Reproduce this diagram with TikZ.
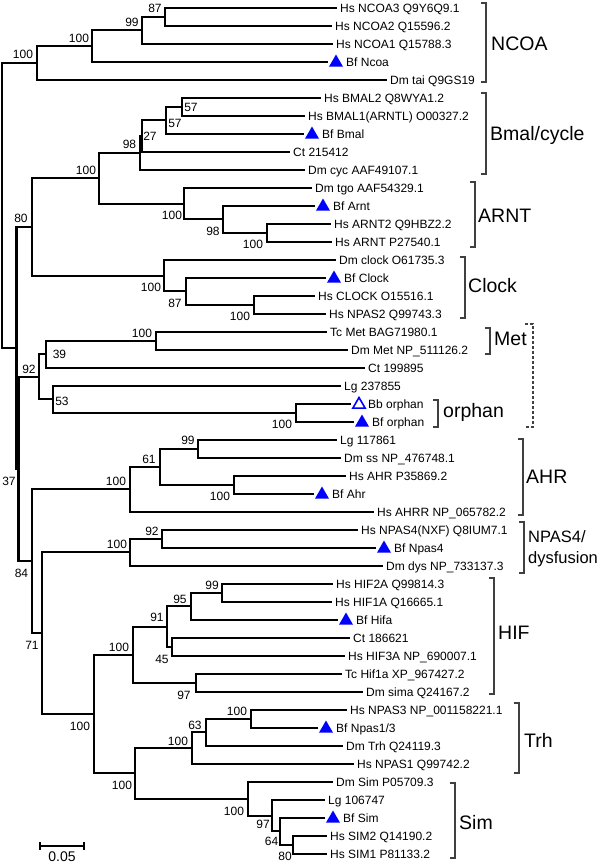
\documentclass[tikz,border=0pt]{standalone}
\usepackage{fontspec}
\setmainfont{Liberation Sans}
\usetikzlibrary{shapes.geometric,calc}
\newcommand\lf[4]{%
  \coordinate (#1) at (#3,{7.8+18*(#2-1)});
  \node[leaf] (#1t) at ($(#1)+(3,4.3)$) {#4};}
\newcommand\lt[4]{%
  \coordinate (#1) at (#3,{7.8+18*(#2-1)});
  \node[tri] (#1m) at ($(#1)+(8,0.8)$) {};
  \node[leaf] (#1t) at ($(#1)+(18,4.3)$) {#4};}
\newcommand\lo[4]{%
  \coordinate (#1) at (#3,{7.8+18*(#2-1)});
  \node[otri] (#1m) at ($(#1)+(8,0.8)$) {};
  \node[leaf] (#1t) at ($(#1)+(17,4.3)$) {#4};}
\newcommand\kids[3]{\draw[brn] (#1) |- (#2); \draw[brn] (#1) |- (#3);}
\begin{document}
\begin{tikzpicture}[x=1pt,y=-1pt,
  brn/.style={line width=2.1pt},
  leaf/.style={font=\fontsize{12}{14}\selectfont, anchor=base west, inner sep=0pt},
  bs/.style={font=\fontsize{12}{14}\selectfont, inner sep=0pt},
  tri/.style={regular polygon, regular polygon sides=3, fill=blue, inner sep=0pt, minimum size=16.2pt},
  otri/.style={regular polygon, regular polygon sides=3, draw=blue, fill=white, line width=1.6pt, inner sep=0pt, minimum size=14.2pt},
  brk/.style={line width=1.3pt, draw=black!75},
  clade/.style={font=\fontsize{19.5}{22}\selectfont, anchor=base west, inner sep=0pt},
  cladesm/.style={font=\fontsize{16.5}{20.6}\selectfont, anchor=base west, inner sep=0pt, align=left},
  scl/.style={font=\fontsize{14}{16}\selectfont, inner sep=0pt}]
\useasboundingbox (0,0) rectangle (600,863);
% leaves
\lf{L1}{1}{337}{Hs NCOA3 Q9Y6Q9.1}
\lf{L2}{2}{332}{Hs NCOA2 Q15596.2}
\lf{L3}{3}{333}{Hs NCOA1 Q15788.3}
\lt{L4}{4}{328}{Bf Ncoa}
\lf{L5}{5}{387}{Dm tai Q9GS19}
\lf{L6}{6}{321}{Hs BMAL2 Q8WYA1.2}
\lf{L7}{7}{305}{Hs BMAL1(ARNTL) O00327.2}
\lt{L8}{8}{304}{Bf Bmal}
\lf{L9}{9}{290}{Ct 215412}
\lf{L10}{10}{305}{Dm cyc AAF49107.1}
\lf{L11}{11}{312}{Dm tgo AAF54329.1}
\lt{L12}{12}{315}{Bf Arnt}
\lf{L13}{13}{331}{Hs ARNT2 Q9HBZ2.2}
\lf{L14}{14}{332}{Hs ARNT P27540.1}
\lf{L15}{15}{336}{Dm clock O61735.3}
\lt{L16}{16}{326}{Bf Clock}
\lf{L17}{17}{315}{Hs CLOCK O15516.1}
\lf{L18}{18}{326}{Hs NPAS2 Q99743.3}
\lf{L19}{19}{327}{Tc Met BAG71980.1}
\lf{L20}{20}{348}{Dm Met NP\_511126.2}
\lf{L21}{21}{365}{Ct 199895}
\lf{L22}{22}{341}{Lg 237855}
\lo{L23}{23}{351}{Bb orphan}
\lt{L24}{24}{354}{Bf orphan}
\lf{L25}{25}{337}{Lg 117861}
\lf{L26}{26}{341}{Dm ss NP\_476748.1}
\lf{L27}{27}{346}{Hs AHR P35869.2}
\lt{L28}{28}{314}{Bf Ahr}
\lf{L29}{29}{374}{Hs AHRR NP\_065782.2}
\lf{L30}{30}{358}{Hs NPAS4(NXF) Q8IUM7.1}
\lt{L31}{31}{376}{Bf Npas4}
\lf{L32}{32}{383}{Dm dys NP\_733137.3}
\lf{L33}{33}{333}{Hs HIF2A Q99814.3}
\lf{L34}{34}{332}{Hs HIF1A Q16665.1}
\lt{L35}{35}{338}{Bf Hifa}
\lf{L36}{36}{350}{Ct 186621}
\lf{L37}{37}{345}{Hs HIF3A NP\_690007.1}
\lf{L38}{38}{342}{Tc Hif1a XP\_967427.2}
\lf{L39}{39}{363}{Dm sima Q24167.2}
\lf{L40}{40}{347}{Hs NPAS3 NP\_001158221.1}
\lt{L41}{41}{318}{Bf Npas1/3}
\lf{L42}{42}{343}{Dm Trh Q24119.3}
\lf{L43}{43}{354}{Hs NPAS1 Q99742.2}
\lf{L44}{44}{333}{Dm Sim P05709.3}
\lf{L45}{45}{325}{Lg 106747}
\lt{L46}{46}{325}{Bf Sim}
\lf{L47}{47}{327}{Hs SIM2 Q14190.2}
\lf{L48}{48}{327}{Hs SIM1 P81133.2}
% internal nodes
\coordinate (n87a) at (165,16.8);
\coordinate (n99a) at (142,30.3);
\coordinate (n100a) at (92,46.05);
\coordinate (nNC) at (37,62.9);
\coordinate (n57a) at (182,106.8);
\coordinate (n57b) at (166,120.3);
\coordinate (n27) at (142,136.05);
\coordinate (n98) at (140,152.9);
\coordinate (n100c) at (267,232.8);
\coordinate (n98b) at (223,219.3);
\coordinate (nAR) at (184,203.55);
\coordinate (nBA) at (99,178.2);
\coordinate (n100d) at (254,304.8);
\coordinate (n87b) at (186,291.3);
\coordinate (nCL) at (164,275.55);
\coordinate (n80) at (32,226.9);
\coordinate (nMet) at (156,340.8);
\coordinate (n39) at (46,354.3);
\coordinate (nOr) at (296,412.8);
\coordinate (n53) at (53,399.3);
\coordinate (n92) at (39,376.8);
\coordinate (n99b) at (198,448.8);
\coordinate (n100e) at (234,484.8);
\coordinate (n61) at (160,466.8);
\coordinate (nAHR) at (130,489.3);
\coordinate (n92b) at (162,538.8);
\coordinate (nNP) at (130,552.3);
\coordinate (n99c) at (222,592.8);
\coordinate (n95) at (191,606.3);
\coordinate (n45) at (172,646.8);
\coordinate (n91) at (167,626.55);
\coordinate (n97) at (196,682.8);
\coordinate (nHIF) at (133,654.7);
\coordinate (n100f) at (251,718.8);
\coordinate (n63) at (206,732.3);
\coordinate (nTrh) at (192,748.05);
\coordinate (n80b) at (293,844.8);
\coordinate (n64) at (280,831.3);
\coordinate (n97b) at (272,815.55);
\coordinate (nSim) at (248,798.7);
\coordinate (nTS) at (135,773.4);
\coordinate (nE) at (94,714.05);
\coordinate (n71) at (42,633.2);
\coordinate (n84) at (32,561.25);
\coordinate (n37) at (18.5,469.0);
\coordinate (nA) at (16.5,347.95);
\coordinate (root) at (2,205.4);
% branches
\kids{root}{nNC}{nA}
\kids{nNC}{n100a}{L5}
\kids{n100a}{n99a}{L4}
\kids{n99a}{n87a}{L3}
\kids{n87a}{L1}{L2}
\kids{nA}{n80}{n37}
\kids{n80}{nBA}{nCL}
\kids{nBA}{n98}{nAR}
\kids{n98}{n27}{L10}
\kids{n27}{n57b}{L9}
\kids{n57b}{n57a}{L8}
\kids{n57a}{L6}{L7}
\kids{nAR}{L11}{n98b}
\kids{n98b}{L12}{n100c}
\kids{n100c}{L13}{L14}
\kids{nCL}{L15}{n87b}
\kids{n87b}{L16}{n100d}
\kids{n100d}{L17}{L18}
\kids{n37}{n92}{n84}
\kids{n92}{n39}{n53}
\kids{n39}{nMet}{L21}
\kids{nMet}{L19}{L20}
\kids{n53}{L22}{nOr}
\kids{nOr}{L23}{L24}
\kids{n84}{nAHR}{n71}
\kids{nAHR}{n61}{L29}
\kids{n61}{n99b}{n100e}
\kids{n99b}{L25}{L26}
\kids{n100e}{L27}{L28}
\kids{n71}{nNP}{nE}
\kids{nNP}{n92b}{L32}
\kids{n92b}{L30}{L31}
\kids{nE}{nHIF}{nTS}
\kids{nHIF}{n91}{n97}
\kids{n91}{n95}{n45}
\kids{n95}{n99c}{L35}
\kids{n99c}{L33}{L34}
\kids{n45}{L36}{L37}
\kids{n97}{L38}{L39}
\kids{nTS}{nTrh}{nSim}
\kids{nTrh}{n63}{L43}
\kids{n63}{n100f}{L42}
\kids{n100f}{L40}{L41}
\kids{nSim}{L44}{n97b}
\kids{n97b}{L45}{n64}
\kids{n64}{L46}{n80b}
\kids{n80b}{L47}{L48}
% bootstrap values
\node[bs] (b1) at (155,8) {87};
\node[bs] (b2) at (132,22) {99};
\node[bs] (b3) at (79,38) {100};
\node[bs] (b4) at (23,54) {100};
\node[bs] (b5) at (191,107) {57};
\node[bs] (b6) at (175,123) {57};
\node[bs] (b7) at (150,136) {27};
\node[bs] (b8) at (129.5,144) {98};
\node[bs] (b9) at (86,170) {100};
\node[bs] (b10) at (172,215) {100};
\node[bs] (b11) at (213,231) {98};
\node[bs] (b12) at (253,244) {100};
\node[bs] (b13) at (21,218) {80};
\node[bs] (b14) at (151,287) {100};
\node[bs] (b15) at (175,303) {87};
\node[bs] (b16) at (240,316) {100};
\node[bs] (b17) at (142,333) {100};
\node[bs] (b18) at (59.5,354) {39};
\node[bs] (b19) at (29,369) {92};
\node[bs] (b20) at (62,401) {53};
\node[bs] (b21) at (282,424) {100};
\node[bs] (b22) at (9,481) {37};
\node[bs] (b23) at (188,440) {99};
\node[bs] (b24) at (149,459) {61};
\node[bs] (b25) at (116,481) {100};
\node[bs] (b26) at (220,496) {100};
\node[bs] (b27) at (152,531) {92};
\node[bs] (b28) at (117,544) {100};
\node[bs] (b29) at (21.5,573) {84};
\node[bs] (b30) at (212,585) {99};
\node[bs] (b31) at (180,599) {95};
\node[bs] (b32) at (157,617) {91};
\node[bs] (b33) at (32,645) {71};
\node[bs] (b34) at (119,647) {100};
\node[bs] (b35) at (162,659) {45};
\node[bs] (b36) at (184,695) {97};
\node[bs] (b37) at (237,711) {100};
\node[bs] (b38) at (195,725) {63};
\node[bs] (b39) at (178,741) {100};
\node[bs] (b40) at (80,726) {100};
\node[bs] (b41) at (122,785) {100};
\node[bs] (b42) at (234,811) {100};
\node[bs] (b43) at (263,824) {97};
\node[bs] (b44) at (271.5,841) {64};
\node[bs] (b45) at (285,856) {80};
% clade brackets
\draw[brk] (481,3) -- (486,3) -- (486,82) -- (481,82);
\node[clade] (cNCOA) at (491,50) {NCOA};
\draw[brk] (481,93) -- (486,93) -- (486,174) -- (481,174);
\node[clade] (cBmal) at (490,140) {Bmal/cycle};
\draw[brk] (470,182) -- (475,182) -- (475,247) -- (470,247);
\node[clade] (cARNT) at (478,222) {ARNT};
\draw[brk] (460,257) -- (465,257) -- (465,318) -- (460,318);
\node[clade] (cClock) at (468,292) {Clock};
\draw[brk] (485,328) -- (490,328) -- (490,354) -- (485,354);
\node[clade] (cMet) at (494,345) {Met};
\draw[brk, dashed, dash pattern=on 3pt off 2pt] (525,324) -- (533,324) -- (533,427) -- (525,427);
\draw[brk] (433,400) -- (438,400) -- (438,427) -- (433,427);
\node[clade] (cOrph) at (443,417) {orphan};
\draw[brk] (518,439) -- (523,439) -- (523,515) -- (518,515);
\node[clade] (cAHR) at (526,483) {AHR};
\draw[brk] (519,522) -- (524,522) -- (524,573) -- (519,573);
\node[cladesm] (cNP4) at (528,542.7) {NPAS4/};
\node[cladesm] (cDys) at (528,563.3) {dysfusion};
\draw[brk] (489,578) -- (494,578) -- (494,694) -- (489,694);
\node[clade] (cHIF) at (498,639) {HIF};
\draw[brk] (514,703) -- (519,703) -- (519,773) -- (514,773);
\node[clade] (cTrh) at (524,747) {Trh};
\draw[brk] (450,783) -- (455,783) -- (455,858) -- (450,858);
\node[clade] (cSim) at (459,829) {Sim};
% scale bar
\coordinate (s1) at (40,846);
\coordinate (s2) at (84,846);
\draw[brn] (s1) -- (s2);
\draw[brn] ($(s1)+(0,-4)$) -- ($(s1)+(0,4)$);
\draw[brn] ($(s2)+(0,-4)$) -- ($(s2)+(0,4)$);
\node[scl] (sl) at (62,856.7) {0.05};
\end{tikzpicture}
\end{document}
